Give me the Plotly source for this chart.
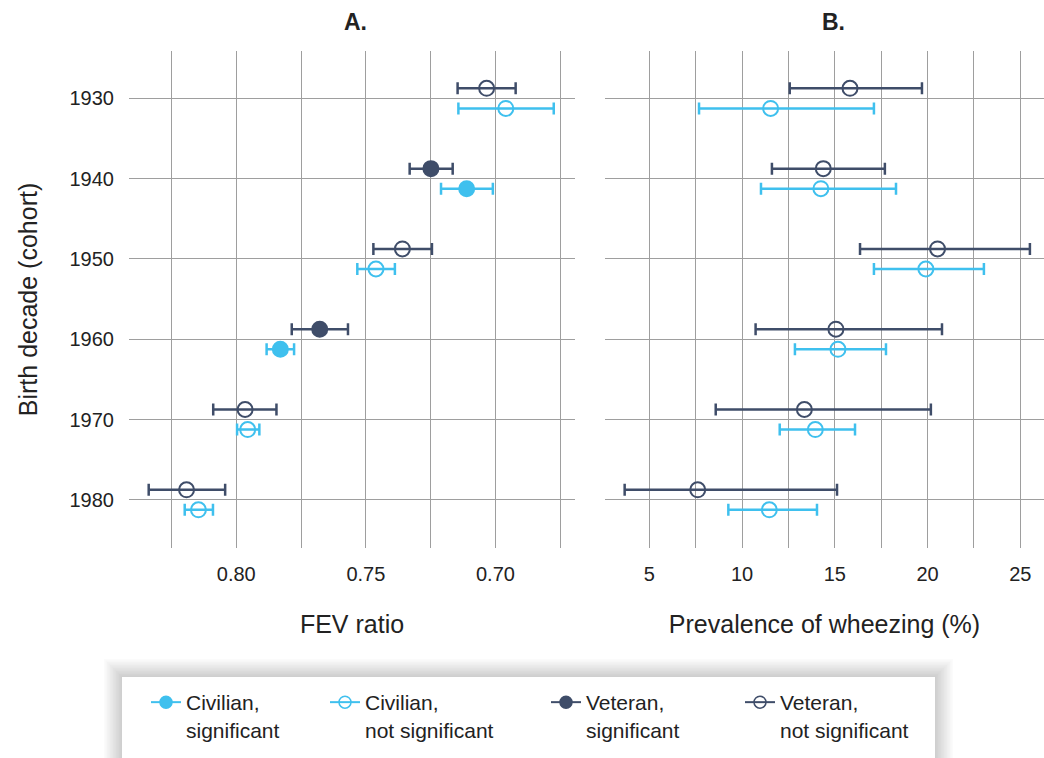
import plotly.graph_objects as go

# ---------------- data ----------------
cohorts = [1930, 1940, 1950, 1960, 1970, 1980]

fev_civ = [0.6960, 0.7111, 0.7461, 0.7830, 0.7956, 0.8146]
fev_civ_lo = [0.6775, 0.7010, 0.7388, 0.7777, 0.7911, 0.8090]
fev_civ_hi = [0.7143, 0.7210, 0.7533, 0.7883, 0.7997, 0.8199]
fev_civ_sig = [False, True, False, True, False, False]

fev_vet = [0.7034, 0.7249, 0.7359, 0.7678, 0.7966, 0.8192]
fev_vet_lo = [0.6922, 0.7165, 0.7245, 0.7569, 0.7845, 0.8043]
fev_vet_hi = [0.7146, 0.7331, 0.7471, 0.7786, 0.8089, 0.8338]
fev_vet_sig = [False, True, False, True, False, False]

wh_civ = [11.54, 14.25, 19.91, 15.17, 13.95, 11.47]
wh_civ_lo = [7.68, 11.02, 17.11, 12.85, 12.03, 9.26]
wh_civ_hi = [17.11, 18.30, 23.04, 17.76, 16.09, 14.04]
wh_civ_sig = [False, False, False, False, False, False]

wh_vet = [15.82, 14.38, 20.54, 15.06, 13.36, 7.61]
wh_vet_lo = [12.57, 11.61, 16.36, 10.73, 8.58, 3.67]
wh_vet_hi = [19.70, 17.70, 25.52, 20.78, 20.18, 15.12]
wh_vet_sig = [False, False, False, False, False, False]

fev_ticks = [0.80, 0.75, 0.70]
fev_tick_labels = ["0.80", "0.75", "0.70"]
wh_ticks = [5, 10, 15, 20, 25]

legend_labels = ["Civilian,<br>significant", "Civilian,<br>not significant",
                 "Veteran,<br>significant", "Veteran,<br>not significant"]

# ---------------- style ----------------
CIV = "#3FC0EE"
VET = "#3F4D69"
GRID = "#9E9E9E"
TXT = "#222222"
FONT = "Liberation Sans, Arial, Helvetica, sans-serif"
OFF = 1.25  # vertical dodge (years)

W, H = 1044, 758
ML, MR, MT, MB = 129, 0, 51, 210
PW = W - ML - MR
PH = H - MT - MB


def px_x(px):
    return (px - ML) / PW


def px_y(py):
    return (H - MB - py) / PH


fig = go.Figure()


def add_series(xv, lo, hi, sig, color, dy, xa, ya):
    ys = [c + dy for c in cohorts]
    plus = [h - v for h, v in zip(hi, xv)]
    minus = [v - l for v, l in zip(xv, lo)]
    symbols = ["circle" if s else "circle-open" for s in sig]
    fig.add_trace(go.Scatter(
        x=xv, y=ys, mode="markers", xaxis=xa, yaxis=ya, showlegend=False,
        marker=dict(symbol=symbols, size=15, color=color,
                    line=dict(color=color, width=2)),
        error_x=dict(type="data", symmetric=False, array=plus, arrayminus=minus,
                     color=color, thickness=2.5, width=6),
        hoverinfo="x+y",
    ))


add_series(fev_vet, fev_vet_lo, fev_vet_hi, fev_vet_sig, VET, -OFF, "x", "y")
add_series(fev_civ, fev_civ_lo, fev_civ_hi, fev_civ_sig, CIV, OFF, "x", "y")
add_series(wh_vet, wh_vet_lo, wh_vet_hi, wh_vet_sig, VET, -OFF, "x2", "y2")
add_series(wh_civ, wh_civ_lo, wh_civ_hi, wh_civ_sig, CIV, OFF, "x2", "y2")

# legend entries (one legend each so spacing can be matched)
leg_specs = [(CIV, "circle", "legend"), (CIV, "circle-open", "legend2"),
             (VET, "circle", "legend3"), (VET, "circle-open", "legend4")]
for (col, sym, lg), lab in zip(leg_specs, legend_labels):
    fig.add_trace(go.Scatter(
        x=[None], y=[None], mode="lines+markers", name=lab, legend=lg,
        line=dict(color=col, width=2),
        marker=dict(symbol=sym, size=12, color=col, line=dict(color=col, width=1.5)),
        xaxis="x", yaxis="y", showlegend=True,
    ))

leg_x = [146, 325, 546, 740]
leg_common = dict(orientation="h", valign="top", bgcolor="rgba(0,0,0,0)",
                  font=dict(family=FONT, size=21, color=TXT),
                  xanchor="left", yanchor="top", y=px_y(682))

axis_font = dict(family=FONT, size=20, color=TXT)
title_font = dict(family=FONT, size=25, color=TXT)

dom_a = [0, px_x(575)]
dom_b = [px_x(605), 1.0]

fig.update_layout(
    width=W, height=H,
    margin=dict(l=ML, r=MR, t=MT, b=MB, pad=0),
    paper_bgcolor="white", plot_bgcolor="white",
    font=dict(family=FONT, color=TXT),
    showlegend=True,
    legend=dict(**leg_common, x=px_x(leg_x[0])),
    legend2=dict(**leg_common, x=px_x(leg_x[1])),
    legend3=dict(**leg_common, x=px_x(leg_x[2])),
    legend4=dict(**leg_common, x=px_x(leg_x[3])),
    xaxis=dict(domain=dom_a, range=[0.8414, 0.6693], tickvals=fev_ticks,
               ticktext=fev_tick_labels, showgrid=True, gridcolor=GRID, gridwidth=1,
               minor=dict(dtick=0.025, tick0=0.7, showgrid=True, gridcolor=GRID, gridwidth=1),
               zeroline=False, showline=False, ticks="", tickfont=axis_font,
               ticklabelstandoff=12,
               title=dict(text="FEV ratio", font=title_font, standoff=31)),
    yaxis=dict(domain=[0, 1], range=[1986.0, 1924.1], tickvals=cohorts,
               showgrid=True, gridcolor=GRID, gridwidth=1, zeroline=False, showline=False,
               ticks="", tickfont=axis_font, ticklabelstandoff=14,
               title=dict(text="Birth decade (cohort)", font=title_font, standoff=24)),
    xaxis2=dict(domain=dom_b, range=[2.61, 26.28], tickvals=wh_ticks, anchor="y2",
                showgrid=True, gridcolor=GRID, gridwidth=1,
                minor=dict(dtick=2.5, tick0=0, showgrid=True, gridcolor=GRID, gridwidth=1),
                zeroline=False, showline=False, ticks="", tickfont=axis_font,
                ticklabelstandoff=12,
                title=dict(text="Prevalence of wheezing (%)", font=title_font, standoff=31)),
    yaxis2=dict(domain=[0, 1], range=[1986.0, 1924.1], tickvals=cohorts, anchor="x2",
                showgrid=True, gridcolor=GRID, gridwidth=1, zeroline=False, showline=False,
                showticklabels=False, ticks=""),
)

# panel titles
for lab, px in (("<b>A.</b>", 355), ("<b>B.</b>", 833)):
    fig.add_annotation(text=lab, x=px_x(px), y=px_y(22), xref="paper", yref="paper",
                       xanchor="center", yanchor="middle", showarrow=False,
                       font=dict(family=FONT, size=23, color=TXT))

# legend box with soft shadow
bx0, bx1, by0, by1 = 122, 935, 677, 770
for i in range(12, 0, -1):
    s = i * 1.5
    fig.add_shape(type="rect", xref="paper", yref="paper",
                  x0=px_x(bx0 - s), x1=px_x(bx1 + s), y0=px_y(by0 - s), y1=px_y(by1 + s),
                  fillcolor="rgba(0,0,0,0.014)", line=dict(width=0), layer="below")
fig.add_shape(type="rect", xref="paper", yref="paper",
              x0=px_x(bx0), x1=px_x(bx1), y0=px_y(by0), y1=px_y(by1),
              fillcolor="white", line=dict(width=0), layer="below")

fig.write_html("out.html", config={"displayModeBar": False},
               post_script="document.body.style.margin='0';document.body.style.padding='0';"
                           "document.body.style.overflow='hidden';")
